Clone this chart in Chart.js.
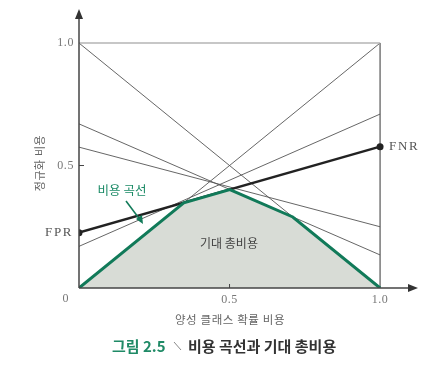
<!DOCTYPE html>
<html>
<head>
<meta charset="utf-8">
<script src="https://cdn.jsdelivr.net/npm/chart.js@4.4.1/dist/chart.umd.min.js"></script>
<style>
  html, body { margin: 0; padding: 0; background: #fff; }
  #wrap { width: 437px; height: 367px; position: relative; }
</style>
</head>
<body>
<div id="wrap"><canvas id="costChart" width="437" height="367"></canvas></div>
<script>
// classifier lines: cost at x=0 (FPR) and at x=1 (FNR)
var lineStart = [1.0, 1.0, 0.0, 0.67, 0.575, 0.17]
var lineEnd = [1.0, 0.0, 1.0, 0.135, 0.25, 0.71]
var lineColors = ['#b4b4b4', '#555555', '#555555', '#555555', '#555555', '#555555']
// highlighted classifier
var bestFpr = 0.226
var bestFnr = 0.577
// lower envelope (cost curve)
var curveX = [0, 0.348, 0.501, 0.71, 1]
var curveY = [0, 0.348, 0.402, 0.29, 0]
var xTicks = [0.5, 1.0]
var yTicks = [0.5, 1.0]

var serif = '"Liberation Serif", "DejaVu Serif", serif'
var sans = '"Noto Sans CJK KR", "Noto Sans", sans-serif'

var datasets = []
datasets.push({
  label: '비용 곡선',
  data: curveX.map(function (x, i) { return { x: x, y: curveY[i] } }),
  showLine: true,
  borderColor: '#117a59',
  borderWidth: 3,
  backgroundColor: '#d8dcd6',
  fill: 'origin',
  pointRadius: 0,
  order: 0
})
datasets.push({
  label: 'best',
  data: [{ x: 0, y: bestFpr }, { x: 1, y: bestFnr }],
  showLine: true,
  borderColor: '#222',
  borderWidth: 2.5,
  pointRadius: 3.5,
  pointBackgroundColor: '#222',
  pointBorderWidth: 0,
  order: 1
})
lineStart.forEach(function (v, i) {
  datasets.push({
    label: 'c' + i,
    data: [{ x: 0, y: v }, { x: 1, y: lineEnd[i] }],
    showLine: true,
    borderColor: lineColors[i],
    borderWidth: i === 0 ? 1.6 : 0.9,
    pointRadius: 0,
    order: 2
  })
})
datasets.push({
  label: 'frame',
  data: [{ x: 1, y: 0 }, { x: 1, y: 1 }],
  showLine: true,
  borderColor: '#555',
  borderWidth: 1.2,
  pointRadius: 0,
  order: 3
})

var decor = {
  id: 'decor',
  afterDraw: function (chart) {
    var c = chart.ctx
    var xs = chart.scales.x, ys = chart.scales.y
    var a = chart.chartArea
    var x0 = xs.getPixelForValue(0), y0 = ys.getPixelForValue(0)
    c.save()
    // axes with arrows
    c.strokeStyle = '#444'; c.fillStyle = '#333'; c.lineWidth = 1.5
    c.beginPath(); c.moveTo(x0, y0); c.lineTo(x0, a.top + 6); c.stroke()
    c.beginPath(); c.moveTo(x0, y0); c.lineTo(a.right - 6, y0); c.stroke()
    c.beginPath(); c.moveTo(x0, a.top); c.lineTo(x0 - 4, a.top + 10); c.lineTo(x0 + 4, a.top + 10); c.closePath(); c.fill()
    c.beginPath(); c.moveTo(a.right, y0); c.lineTo(a.right - 10, y0 - 4); c.lineTo(a.right - 10, y0 + 4); c.closePath(); c.fill()
    // tick marks
    c.lineWidth = 1
    var ty = ys.getPixelForValue(0.5)
    c.beginPath(); c.moveTo(x0, ty); c.lineTo(x0 + 5, ty); c.stroke()
    var tx = xs.getPixelForValue(0.5)
    c.beginPath(); c.moveTo(tx, y0); c.lineTo(tx, y0 - 4); c.stroke()
    // tick labels
    c.fillStyle = '#777'; c.font = '12px ' + serif
    c.letterSpacing = '0.6px'
    c.textAlign = 'right'; c.textBaseline = 'middle'
    yTicks.forEach(function (v) { c.fillText(v.toFixed(1), x0 - 5, ys.getPixelForValue(v)) })
    c.fillText('0', x0 - 10, y0 + 11)
    c.textAlign = 'center'; c.textBaseline = 'top'
    xTicks.forEach(function (v) { c.fillText(v.toFixed(1), xs.getPixelForValue(v), y0 + 6) })
    // FPR / FNR
    c.fillStyle = '#555'; c.font = '13px ' + serif; c.textBaseline = 'middle'
    c.letterSpacing = '1.6px'
    c.textAlign = 'right'; c.fillText('FPR', x0 - 6, ys.getPixelForValue(bestFpr))
    c.textAlign = 'left'; c.fillText('FNR', xs.getPixelForValue(1) + 9, ys.getPixelForValue(bestFnr))
    c.letterSpacing = '0px'
    // annotations
    c.fillStyle = '#1b8a66'; c.font = '12.5px ' + sans; c.textAlign = 'center'
    c.fillText('비용 곡선', 122, 190)
    c.strokeStyle = '#117a59'; c.lineWidth = 1.5
    c.beginPath(); c.moveTo(126, 201); c.lineTo(141, 221); c.stroke()
    c.fillStyle = '#117a59'
    c.beginPath(); c.moveTo(143, 224); c.lineTo(136, 219); c.lineTo(142, 215); c.closePath(); c.fill()
    c.fillStyle = '#444'; c.font = '12px ' + sans
    c.fillText('기대 총비용', 229, 243)
    // axis titles
    c.fillStyle = '#666'; c.font = '11.5px ' + sans
    c.letterSpacing = '0.6px'
    c.fillText('양성 클래스 확률 비용', 230, 320)
    c.save(); c.translate(40, 163); c.rotate(-Math.PI / 2)
    c.font = '11px ' + sans
    c.fillText('정규화 비용', 0, 0); c.restore()
    c.letterSpacing = '0px'
    // caption
    c.font = 'bold 15px ' + sans; c.textAlign = 'left'
    c.fillStyle = '#1f8a66'; c.fillText('그림 2.5', 112, 346)
    c.strokeStyle = '#888'; c.lineWidth = 1
    c.beginPath(); c.moveTo(174, 342); c.lineTo(181, 350); c.stroke()
    c.fillStyle = '#333'; c.font = 'bold 15px ' + sans
    c.fillText('비용 곡선과 기대 총비용', 188, 346)
    c.restore()
  }
}

new Chart(document.getElementById('costChart'), {
  type: 'scatter',
  data: { datasets: datasets },
  options: {
    responsive: false,
    animation: false,
    layout: { padding: { left: 79, right: 19, top: 9, bottom: 79 } },
    plugins: { legend: { display: false }, tooltip: { enabled: false } },
    scales: {
      x: { type: 'linear', min: 0, max: 1.126, display: false },
      y: { type: 'linear', min: 0, max: 1.139, display: false }
    }
  },
  plugins: [decor]
})
</script>
</body>
</html>
